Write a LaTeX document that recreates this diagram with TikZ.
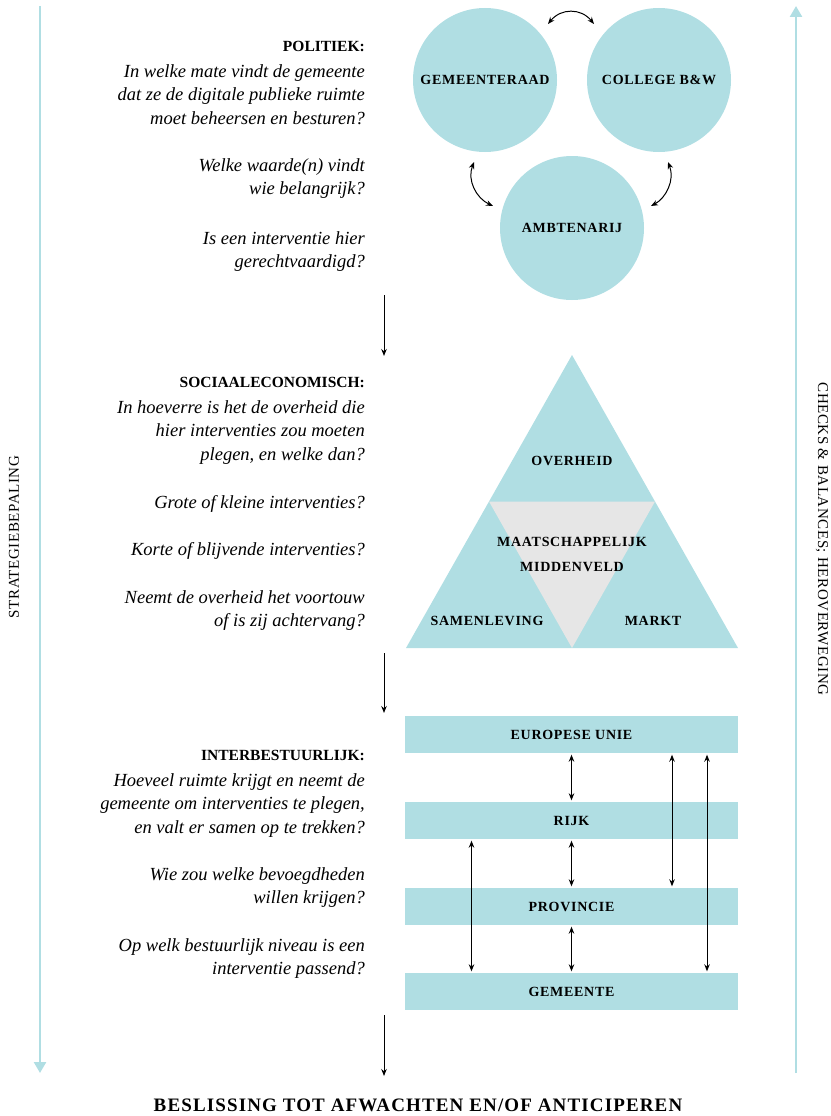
\documentclass[tikz,border=0pt]{standalone}
\usepackage{fontspec}
\setmainfont{Liberation Serif}
\usetikzlibrary{arrows.meta,calc}
\definecolor{lblue}{RGB}{176,222,227}
\definecolor{lgray}{RGB}{230,230,230}
\begin{document}
\begin{tikzpicture}[x=1pt,y=-1pt,
  circ/.style={circle,fill=lblue,minimum size=144pt,inner sep=0pt},
  lab/.style={font=\fontsize{14}{16}\selectfont\bfseries\addfontfeatures{LetterSpace=5}},
  bar/.style={fill=lblue,minimum width=333pt,minimum height=37pt,inner sep=0pt,font=\fontsize{14}{16}\selectfont\bfseries\addfontfeatures{LetterSpace=5}},
  q/.style={anchor=north east,align=right,font=\fontsize{18.5}{23.7}\selectfont\itshape,inner sep=0pt},
  hd/.style={anchor=east,font=\fontsize{15.5}{17}\selectfont\bfseries,inner sep=0pt},
  arr/.style={-{Stealth[length=7pt,width=5.5pt]},line width=1pt},
  darr/.style={{Stealth[length=7pt,width=5.5pt]}-{Stealth[length=7pt,width=5.5pt]},line width=1pt},
  side/.style={lblue,line width=2.5pt,-{Triangle[length=11pt,width=12pt]}},
  sidelab/.style={font=\fontsize{15}{17}\selectfont\addfontfeatures{LetterSpace=4},inner sep=0pt}
]
\path[use as bounding box] (0,0) rectangle (830,1116);

% side arrows
\coordinate (lt) at (40,6);
\coordinate (lb) at (40,1073);
\coordinate (rb) at (796,1073);
\coordinate (rt) at (796,6);
\draw[side] (lt) -- (lb);
\draw[side] (rb) -- (rt);
\node[sidelab,rotate=90] (strat) at (14,537) {STRATEGIEBEPALING};
\node[sidelab,rotate=-90] (checks) at (822,539) {CHECKS \& BALANCES; HEROVERWEGING};

% circles
\node[circ] (raad) at (485,80) {};
\node[circ] (coll) at (659,80) {};
\node[circ] (amb) at (572,228) {};
\node[lab] at (raad) {GEMEENTERAAD};
\node[lab] at (coll) {COLLEGE B\&W};
\node[lab] at (amb) {AMBTENARIJ};
\coordinate (a1) at (548,24);
\coordinate (a2) at (594,24);
\coordinate (b1) at (474,162);
\coordinate (b2) at (493,206);
\coordinate (c1) at (668,162);
\coordinate (c2) at (651,206);
\draw[darr] (a1) .. controls (561,8) and (581,8) .. (a2);
\draw[darr] (b1) .. controls (467,180) and (476,198) .. (b2);
\draw[darr] (c1) .. controls (675,180) and (666,198) .. (c2);

% text politiek
\node[hd] (h1) at (365,46) {POLITIEK:};
\node[q] (p1) at (365,64) {In welke mate vindt de gemeente\\dat ze de digitale publieke ruimte\\moet beheersen en besturen?};
\node[q] (p2) at (365,158) {Welke waarde(n) vindt\\wie belangrijk?};
\node[q] (p3) at (365,231) {Is een interventie hier\\gerechtvaardigd?};

% down arrows
\coordinate (d1a) at (384,295);
\coordinate (d1b) at (384,356);
\coordinate (d2a) at (384,653);
\coordinate (d2b) at (384,713);
\coordinate (d3a) at (384,1015);
\coordinate (d3b) at (384,1076);
\draw[arr] (d1a) -- (d1b);
\draw[arr] (d2a) -- (d2b);
\draw[arr] (d3a) -- (d3b);

% triangle
\coordinate (tA) at (572,355);
\coordinate (tL) at (406,648);
\coordinate (tR) at (738,648);
\fill[lblue] (tA) -- (tR) -- (tL) -- cycle;
\fill[lgray] ($(tA)!0.5!(tL)$) -- ($(tA)!0.5!(tR)$) -- ($(tL)!0.5!(tR)$) -- cycle;
\node[lab] (ov) at (572,461) {OVERHEID};
\node[lab,align=center,font=\fontsize{14}{25}\selectfont\bfseries\addfontfeatures{LetterSpace=5}] (mm) at (572,554) {MAATSCHAPPELIJK\\MIDDENVELD};
\node[lab] (sam) at (487,621) {SAMENLEVING};
\node[lab] (mar) at (653,621) {MARKT};

% text sociaaleconomisch
\node[hd] (h2) at (365,382) {SOCIAALECONOMISCH:};
\node[q] (s1) at (365,400) {In hoeverre is het de overheid die\\hier interventies zou moeten\\plegen, en welke dan?};
\node[q] (s2) at (365,495) {Grote of kleine interventies?};
\node[q] (s3) at (365,542) {Korte of blijvende interventies?};
\node[q] (s4) at (365,590) {Neemt de overheid het voortouw\\of is zij achtervang?};

% bars
\node[bar] (eu) at (571.5,734.5) {EUROPESE UNIE};
\node[bar] (rijk) at (571.5,820.5) {RIJK};
\node[bar] (prov) at (571.5,906.5) {PROVINCIE};
\node[bar] (gem) at (571.5,991.5) {GEMEENTE};
\begin{scope}[shorten <=1.5pt,shorten >=1.5pt]
\draw[darr] (eu.south) -- (rijk.north);
\draw[darr] (rijk.south) -- (prov.north);
\draw[darr] (prov.south) -- (gem.north);
\draw[darr] ([xshift=-100pt]rijk.south) -- ([xshift=-100pt]gem.north);
\draw[darr] ([xshift=100.5pt]eu.south) -- ([xshift=100.5pt]prov.north);
\draw[darr] ([xshift=135.5pt]eu.south) -- ([xshift=135.5pt]gem.north);
\end{scope}

% text interbestuurlijk
\node[hd] (h3) at (365,755) {INTERBESTUURLIJK:};
\node[q] (i1) at (365,773) {Hoeveel ruimte krijgt en neemt de\\gemeente om interventies te plegen,\\en valt er samen op te trekken?};
\node[q] (i2) at (365,867) {Wie zou welke bevoegdheden\\willen krijgen?};
\node[q] (i3) at (365,938) {Op welk bestuurlijk niveau is een\\interventie passend?};

% bottom
\node[font=\fontsize{19}{21}\selectfont\bfseries\addfontfeatures{LetterSpace=6},inner sep=0pt] (final) at (418,1105) {BESLISSING TOT AFWACHTEN EN/OF ANTICIPEREN};
\end{tikzpicture}
\end{document}
